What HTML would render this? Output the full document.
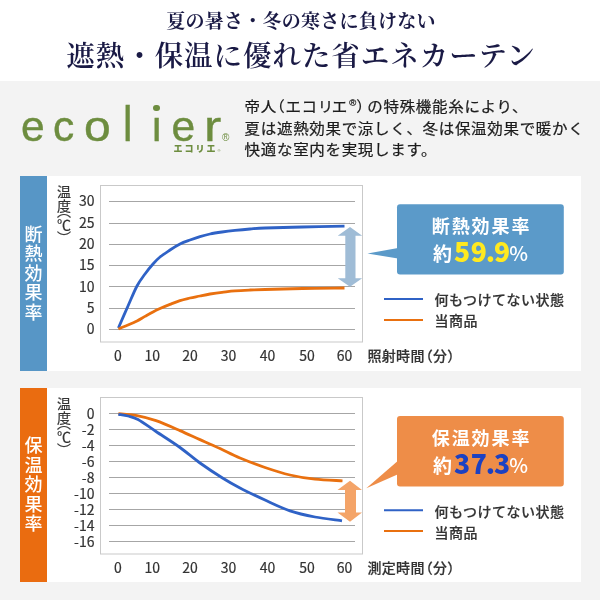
<!DOCTYPE html>
<html lang="ja">
<head>
<meta charset="utf-8">
<title>ecolier</title>
<style>
html,body{margin:0;padding:0;}
body{width:600px;height:600px;overflow:hidden;background:#f3f3f3;position:relative;
  font-family:"Liberation Sans","Noto Sans CJK JP",sans-serif;color:#222;}
.abs{position:absolute;white-space:nowrap;}
.head{position:absolute;left:0;top:0;width:600px;height:80.5px;background:#fff;}
.serif{font-family:"Liberation Serif","Noto Serif CJK JP","Noto Serif CJK SC",serif;font-weight:700;color:#1a1a45;}
.sub{left:1px;width:600px;text-align:center;top:8px;font-size:19px;line-height:28px;letter-spacing:0.25px;}
.title{left:1.2px;width:600px;text-align:center;top:34.6px;font-size:28.5px;line-height:44px;letter-spacing:0.95px;font-weight:600;}
.jp{font-family:"Noto Sans CJK JP","Liberation Sans",sans-serif;}
.logo{left:0;top:0;font-family:"Liberation Sans",sans-serif;font-size:42.5px;line-height:56px;color:#6d8d3f;-webkit-text-stroke:0.4px #6d8d3f;}
.logo span{position:absolute;top:98.5px;display:block;transform-origin:0 50%;}
.logor{left:222px;top:131px;font-size:10px;line-height:14px;color:#6d8d3f;font-family:"Liberation Sans",sans-serif;}
.kana{left:173.6px;top:142.3px;font-size:9px;line-height:14px;color:#6d8d3f;font-weight:900;letter-spacing:2px;}
.kanar{left:217.5px;top:147px;font-size:4px;line-height:8px;color:#6d8d3f;font-family:"Liberation Sans",sans-serif;}
.desc{left:244.6px;top:95px;font-size:15.5px;line-height:23.66px;color:#1c1c1c;letter-spacing:0.68px;-webkit-text-stroke:0.25px #1c1c1c;transform:scaleY(0.93);transform-origin:0 0;}
.hw{font-feature-settings:"halt";}
.panel{position:absolute;left:47px;width:534.3px;background:#fff;}
.bar{position:absolute;left:20px;width:27px;}
.vlabel{position:absolute;left:20px;width:27px;color:#fff;font-weight:500;font-size:18px;line-height:19.5px;text-align:center;}
.vlabel span{display:block;}
.ylab,.xlab,.axis,.tv{-webkit-text-stroke:0.2px #333;}
.ylab{position:absolute;font-size:14px;line-height:16px;color:#333;text-align:right;width:30px;left:64.5px;}
.xlab{position:absolute;font-size:14px;line-height:16px;color:#333;text-align:center;width:30px;}
.axis{position:absolute;font-size:14px;line-height:16px;color:#333;font-weight:500;letter-spacing:0.3px;}
.tv{position:absolute;font-size:14px;line-height:14px;color:#333;writing-mode:vertical-rl;}
.vh{font-feature-settings:"vhal";}
.ct{position:absolute;left:397px;width:167px;text-align:center;color:#fff;font-weight:700;}
.c1{position:absolute;left:431.8px;color:#fff;font-weight:700;font-size:18px;line-height:24px;letter-spacing:1.9px;white-space:nowrap;}
.c2{position:absolute;left:433px;color:#fff;font-weight:700;font-size:19px;line-height:24px;white-space:nowrap;}
.c3{position:absolute;left:454px;font-weight:900;font-size:26.5px;line-height:36px;letter-spacing:0.5px;white-space:nowrap;}
.c4{position:absolute;left:509.3px;color:#fff;font-weight:500;font-size:20px;line-height:24px;white-space:nowrap;}
.leg{position:absolute;left:434.4px;font-size:14px;line-height:16px;color:#333;font-weight:500;letter-spacing:0.53px;-webkit-text-stroke:0.2px #333;}
</style>
</head>
<body>
<div class="head"></div>
<div class="abs serif sub">夏の暑さ・冬の寒さに負けない</div>
<div class="abs serif title">遮熱・保温に優れた省エネカーテン</div>

<div class="abs logo"><span style="left:21px">e</span><span style="left:53px">c</span><span style="left:84px;transform:scaleX(1.13)">o</span><span style="left:123px;transform:scaleY(1.17);transform-origin:0 78%">l</span><span style="left:152px;clip-path:inset(17.5px 0 0 0)">i</span><span style="left:171.5px">e</span><span style="left:203.7px;transform:scaleX(1.22)">r</span></div>
<div class="abs" style="left:153.3px;top:104.8px;width:6.6px;height:6.6px;border-radius:50%;background:#6d8d3f;"></div>
<div class="abs logor">®</div>
<div class="abs jp kana">エコリエ</div>
<div class="abs kanar">®</div>
<div class="abs jp desc">帝人<span class="hw">（</span>エコ<span style="letter-spacing:-1.5px">リ</span>エ<span style="font-size:9.5px;line-height:0;vertical-align:6px;margin-left:1.2px;margin-right:-0.5px;font-family:'Liberation Sans',sans-serif">®</span><span class="hw" style="margin-right:2.5px">）</span>の特殊機能糸により、<br>夏は遮熱効果で涼しく、冬は保温効果で暖かく<br>快適な室内を実現します。</div>

<!-- panel 1 -->
<div class="panel" style="top:175.5px;height:195.3px;"></div>
<div class="bar" style="top:175.5px;height:195.3px;background:#5796c6;"></div>
<div class="vlabel jp" style="top:223.8px;"><span>断</span><span>熱</span><span>効</span><span>果</span><span>率</span></div>

<!-- panel 2 -->
<div class="panel" style="top:388px;height:194.4px;"></div>
<div class="bar" style="top:388px;height:194.4px;background:#ea6c10;"></div>
<div class="vlabel jp" style="top:435px;"><span>保</span><span>温</span><span>効</span><span>果</span><span>率</span></div>

<svg class="abs" style="left:0;top:0" width="600" height="600" viewBox="0 0 600 600">
  <!-- chart 1 -->
  <g fill="none" stroke="#c9c9c9" stroke-width="1">
    <rect x="100.5" y="185.5" width="262" height="156.5"/>
  </g>
  <g stroke="#a6a6a6" stroke-width="1">
    <line x1="109" x2="355" y1="201.5" y2="201.5"/>
    <line x1="109" x2="355" y1="223.5" y2="223.5"/>
    <line x1="109" x2="355" y1="244.5" y2="244.5"/>
    <line x1="109" x2="355" y1="265.5" y2="265.5"/>
    <line x1="109" x2="355" y1="286.5" y2="286.5"/>
    <line x1="109" x2="355" y1="308.5" y2="308.5"/>
    <line x1="109" x2="355" y1="329.5" y2="329.5"/>
  </g>
  <path d="M118.4,328.0 C120.0,324.3 124.9,313.0 128.0,306.0 C131.1,299.0 134.2,291.3 137.0,286.0 C139.8,280.7 142.3,277.7 145.0,274.0 C147.7,270.3 150.5,266.8 153.0,264.0 C155.5,261.2 157.2,259.3 160.0,257.0 C162.8,254.7 166.7,252.2 170.0,250.0 C173.3,247.8 176.7,245.7 180.0,244.0 C183.3,242.3 186.7,241.2 190.0,240.0 C193.3,238.8 196.7,237.6 200.0,236.6 C203.3,235.6 206.3,234.8 210.0,234.0 C213.7,233.2 217.8,232.6 222.0,232.0 C226.2,231.4 230.3,230.9 235.0,230.4 C239.7,229.9 245.0,229.4 250.0,229.0 C255.0,228.6 256.2,228.3 265.0,228.0 C273.8,227.7 289.2,227.3 302.5,227.0 C315.8,226.7 337.5,226.4 344.5,226.2" fill="none" stroke="#2f62c6" stroke-width="2.8" stroke-linejoin="round"/>
  <path d="M118.4,329.0 C120.0,328.3 124.9,326.3 128.0,325.0 C131.1,323.7 134.2,322.4 137.0,321.0 C139.8,319.6 142.3,317.9 145.0,316.4 C147.7,314.9 150.5,313.3 153.0,312.0 C155.5,310.7 157.2,309.9 160.0,308.6 C162.8,307.3 166.7,305.7 170.0,304.4 C173.3,303.1 176.7,301.7 180.0,300.6 C183.3,299.5 186.7,298.8 190.0,298.0 C193.3,297.2 196.7,296.7 200.0,296.0 C203.3,295.3 206.3,294.6 210.0,294.0 C213.7,293.4 217.8,292.8 222.0,292.3 C226.2,291.8 230.3,291.1 235.0,290.8 C239.7,290.4 245.0,290.2 250.0,290.0 C255.0,289.8 256.2,289.8 265.0,289.5 C273.8,289.2 289.2,288.8 302.5,288.5 C315.8,288.2 337.5,288.1 344.5,288.0" fill="none" stroke="#e9700f" stroke-width="2.8" stroke-linejoin="round"/>
  <!-- double arrow 1 -->
  <path d="M350,227 L362.2,235.8 L355.5,235.8 L355.5,278.3 L362.2,278.3 L350,286.7 L337.7,278.3 L345.3,278.3 L345.3,235.8 L337.7,235.8 Z" fill="#9fbcd6"/>
  <!-- callout 1 -->
  <rect x="397" y="204.2" width="166.8" height="70.4" rx="3" fill="#5b9ac9"/>
  <path d="M367.5,253.5 L398,248 L398,258.6 Z" fill="#5b9ac9"/>
  <line x1="384" x2="423" y1="299" y2="299" stroke="#2f62c6" stroke-width="2"/>
  <line x1="384" x2="423" y1="320" y2="320" stroke="#e9700f" stroke-width="2"/>

  <!-- chart 2 -->
  <g fill="none" stroke="#c9c9c9" stroke-width="1">
    <rect x="100.5" y="397.5" width="262" height="156.5"/>
  </g>
  <g stroke="#a6a6a6" stroke-width="1">
    <line x1="109" x2="355" y1="413.5" y2="413.5"/>
    <line x1="109" x2="355" y1="429.5" y2="429.5"/>
    <line x1="109" x2="355" y1="445.5" y2="445.5"/>
    <line x1="109" x2="355" y1="461.5" y2="461.5"/>
    <line x1="109" x2="355" y1="477.5" y2="477.5"/>
    <line x1="109" x2="355" y1="493.5" y2="493.5"/>
    <line x1="109" x2="355" y1="509.5" y2="509.5"/>
    <line x1="109" x2="355" y1="525.5" y2="525.5"/>
    <line x1="109" x2="355" y1="541.5" y2="541.5"/>
  </g>
  <path d="M118.4,413.6 C121.5,413.9 130.7,414.4 137.0,415.6 C143.3,416.8 148.8,418.1 156.0,420.6 C163.2,423.1 172.7,427.4 180.0,430.6 C187.3,433.8 193.3,436.6 200.0,439.6 C206.7,442.6 213.3,445.5 220.0,448.6 C226.7,451.7 232.5,454.9 240.0,458.0 C247.5,461.1 256.7,464.7 265.0,467.5 C273.3,470.3 281.7,473.0 290.0,475.0 C298.3,477.0 306.2,478.3 315.0,479.2 C323.8,480.2 337.9,480.5 342.5,480.8" fill="none" stroke="#e9700f" stroke-width="2.8" stroke-linejoin="round"/>
  <path d="M118.4,414.4 C120.0,414.7 124.7,415.1 128.0,416.0 C131.3,416.9 133.3,416.9 138.0,419.5 C142.7,422.1 149.0,426.8 156.0,431.5 C163.0,436.2 172.7,442.2 180.0,447.5 C187.3,452.8 192.9,457.9 200.0,463.0 C207.1,468.1 215.8,473.8 222.5,478.0 C229.2,482.2 232.9,484.3 240.0,488.0 C247.1,491.7 256.7,496.2 265.0,500.0 C273.3,503.8 281.7,508.0 290.0,510.8 C298.3,513.6 306.3,515.3 315.0,517.0 C323.7,518.7 337.5,520.1 342.0,520.8" fill="none" stroke="#2f62c6" stroke-width="2.8" stroke-linejoin="round"/>
  <!-- double arrow 2 -->
  <path d="M350,480.75 L362,490 L356,490 L356,512.5 L362,512.5 L350,521.75 L337.5,512.5 L345,512.5 L345,490 L337.5,490 Z" fill="#f4a468"/>
  <!-- callout 2 -->
  <rect x="397" y="416" width="166.8" height="70.6" rx="3" fill="#ee8d48"/>
  <path d="M366.3,488.2 L398,460.8 L398,474.2 Z" fill="#ee8d48"/>
  <line x1="384" x2="423" y1="510.3" y2="510.3" stroke="#2f62c6" stroke-width="2"/>
  <line x1="384" x2="423" y1="531" y2="531" stroke="#e9700f" stroke-width="2"/>
</svg>

<!-- chart 1 text -->
<div class="tv jp" style="left:57px;top:185px;">温度<span class="vh" style="margin-inline-start:-2px">（</span>℃<span class="vh" style="margin-inline-start:-1px">）</span></div>
<div class="ylab jp" style="top:192.3px;">30</div>
<div class="ylab jp" style="top:213.6px;">25</div>
<div class="ylab jp" style="top:235.0px;">20</div>
<div class="ylab jp" style="top:256.3px;">15</div>
<div class="ylab jp" style="top:277.6px;">10</div>
<div class="ylab jp" style="top:299.0px;">5</div>
<div class="ylab jp" style="top:320.3px;">0</div>
<div class="xlab jp" style="left:103px;top:346.5px;">0</div>
<div class="xlab jp" style="left:137.3px;top:346.5px;">10</div>
<div class="xlab jp" style="left:175px;top:346.5px;">20</div>
<div class="xlab jp" style="left:213.5px;top:346.5px;">30</div>
<div class="xlab jp" style="left:252.5px;top:346.5px;">40</div>
<div class="xlab jp" style="left:292px;top:346.5px;">50</div>
<div class="xlab jp" style="left:329.6px;top:346.5px;">60</div>
<div class="axis jp" style="left:367.5px;top:347px;">照射時間<span class="hw" style="margin-left:1px">（</span>分<span class="hw">）</span></div>
<div class="c1 jp" style="top:213px;">断熱効果率</div>
<div class="c2 jp" style="top:241px;">約</div>
<div class="c3 jp" style="top:233px;color:#ffe920;">59<span style="margin-left:-1.5px;margin-right:-1.6px;">.</span>9</div>
<div class="c4 jp" style="top:241px;">%</div>
<div class="leg jp" style="top:291px;">何もつけてない状態</div>
<div class="leg jp" style="top:312px;">当商品</div>

<!-- chart 2 text -->
<div class="tv jp" style="left:57px;top:397px;">温度<span class="vh" style="margin-inline-start:-2px">（</span>℃<span class="vh" style="margin-inline-start:-1px">）</span></div>
<div class="ylab jp" style="top:404.6px;">0</div>
<div class="ylab jp" style="top:420.6px;">-2</div>
<div class="ylab jp" style="top:436.6px;">-4</div>
<div class="ylab jp" style="top:452.6px;">-6</div>
<div class="ylab jp" style="top:468.6px;">-8</div>
<div class="ylab jp" style="top:484.6px;">-10</div>
<div class="ylab jp" style="top:500.6px;">-12</div>
<div class="ylab jp" style="top:516.6px;">-14</div>
<div class="ylab jp" style="top:532.6px;">-16</div>
<div class="xlab jp" style="left:103px;top:558.5px;">0</div>
<div class="xlab jp" style="left:137.3px;top:558.5px;">10</div>
<div class="xlab jp" style="left:175px;top:558.5px;">20</div>
<div class="xlab jp" style="left:213.5px;top:558.5px;">30</div>
<div class="xlab jp" style="left:252.5px;top:558.5px;">40</div>
<div class="xlab jp" style="left:292px;top:558.5px;">50</div>
<div class="xlab jp" style="left:329.6px;top:558.5px;">60</div>
<div class="axis jp" style="left:367.5px;top:559px;">測定時間<span class="hw" style="margin-left:1px">（</span>分<span class="hw">）</span></div>
<div class="c1 jp" style="top:425px;">保温効果率</div>
<div class="c2 jp" style="top:453px;">約</div>
<div class="c3 jp" style="top:445px;color:#1c41c2;">37<span style="margin-left:-1.5px;margin-right:-1.6px;">.</span>3</div>
<div class="c4 jp" style="top:453px;">%</div>
<div class="leg jp" style="top:502.5px;">何もつけてない状態</div>
<div class="leg jp" style="top:523.5px;">当商品</div>
</body>
</html>
